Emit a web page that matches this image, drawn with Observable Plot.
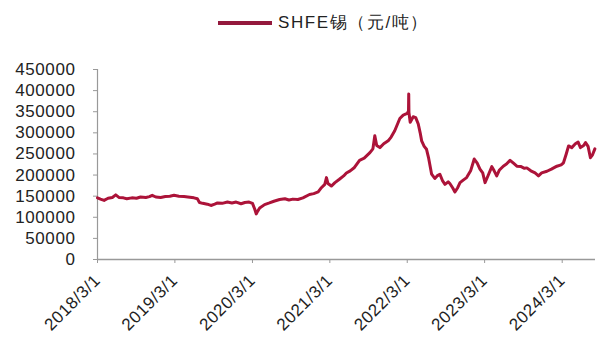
<!DOCTYPE html>
<html>
<head>
<meta charset="utf-8">
<script src="https://cdn.jsdelivr.net/npm/d3@7"></script>
<script src="https://cdn.jsdelivr.net/npm/@observablehq/plot@0.6"></script>
<style>
  html, body { margin: 0; padding: 0; background: #fff; }
  #wrap { position: relative; width: 600px; height: 341px; overflow: hidden; font-family: "Liberation Sans", Arial, sans-serif; }
  #legend { position: absolute; left: 218px; top: 10px; display: flex; align-items: center; height: 25px; }
  #legend .sw { width: 54px; height: 4px; margin-right: 6px; }
  #legend .tx { font-size: 17px; letter-spacing: 1.6px; color: #222; }
  #chart { position: absolute; left: 0; top: 46px; }
  #chart svg text { letter-spacing: 0.6px; }
</style>
</head>
<body>
<div id="wrap">
  <div id="legend"><div class="sw"></div><div class="tx"></div></div>
  <div id="chart"></div>
</div>
<script>
const seriesName = "SHFE锡（元/吨）";
const lineColor = "#ac1339";
const legendColor = "#94193d";

const dates = [
  "2018-03-01","2018-03-15","2018-04-01","2018-04-20","2018-05-10","2018-05-26","2018-06-10","2018-07-01","2018-07-17","2018-08-10",
  "2018-09-01","2018-09-20","2018-10-15","2018-11-01","2018-11-14","2018-12-01","2018-12-24","2019-01-15","2019-02-05","2019-02-25",
  "2019-03-20","2019-04-13","2019-05-01","2019-05-30","2019-06-15","2019-06-25","2019-07-10","2019-08-01","2019-08-18","2019-09-05",
  "2019-09-18","2019-10-10","2019-11-04","2019-11-25","2019-12-15","2020-01-07","2020-01-25","2020-02-14","2020-03-01","2020-03-11",
  "2020-03-19","2020-03-25","2020-04-04","2020-04-27","2020-05-20","2020-06-10","2020-07-07","2020-08-01","2020-08-20","2020-09-08",
  "2020-10-01","2020-10-25","2020-11-25","2020-12-15","2021-01-05","2021-01-20","2021-02-05","2021-02-13","2021-02-20","2021-03-08",
  "2021-03-25","2021-04-15","2021-05-05","2021-05-18","2021-06-05","2021-06-25","2021-07-19","2021-08-10","2021-09-06","2021-09-20",
  "2021-09-29","2021-10-08","2021-10-23","2021-11-10","2021-12-01","2021-12-15","2022-01-01","2022-01-25","2022-02-10","2022-03-01",
  "2022-03-07","2022-03-08","2022-03-09","2022-03-15","2022-03-29","2022-04-10","2022-04-22","2022-05-01","2022-05-08","2022-05-20",
  "2022-05-31","2022-06-10","2022-06-24","2022-07-09","2022-07-20","2022-08-02","2022-08-15","2022-08-26","2022-09-10","2022-09-18",
  "2022-10-01","2022-10-12","2022-10-25","2022-11-05","2022-11-20","2022-12-06","2022-12-25","2023-01-11","2023-01-25","2023-02-07",
  "2023-02-20","2023-03-03","2023-03-15","2023-04-04","2023-04-15","2023-04-27","2023-05-10","2023-05-28","2023-06-12","2023-06-29",
  "2023-07-15","2023-07-31","2023-08-20","2023-09-05","2023-09-16","2023-10-05","2023-10-25","2023-11-10","2023-11-25","2023-12-20",
  "2024-01-10","2024-02-05","2024-02-25","2024-03-07","2024-03-20","2024-03-31","2024-04-15","2024-05-02","2024-05-15","2024-05-26",
  "2024-06-10","2024-06-19","2024-07-01","2024-07-12","2024-07-22","2024-08-02"
];
const prices = [
  146000,143000,140000,145000,147000,153000,147000,146000,144000,146000,
  145000,148000,147000,149000,152000,148000,147000,149000,150000,152000,
  150000,149000,148000,146000,144000,135000,133000,131000,128000,131000,
  134000,133000,136000,134000,136000,132000,135000,136000,133000,120000,
  108000,114000,122000,130000,134000,138000,142000,144000,141000,143000,
  142000,146000,154000,156000,160000,170000,178000,194000,180000,174000,
  182000,190000,198000,205000,210000,218000,235000,240000,253000,262000,
  293000,270000,265000,274000,281000,290000,305000,334000,342000,346000,
  352000,392000,348000,325000,338000,336000,321000,300000,281000,268000,
  261000,240000,202000,192000,198000,202000,186000,178000,184000,180000,
  170000,160000,170000,182000,188000,194000,210000,238000,228000,214000,
  205000,182000,196000,220000,210000,198000,212000,221000,226000,235000,
  228000,221000,220000,216000,217000,210000,205000,198000,205000,209000,
  214000,221000,224000,229000,250000,269000,265000,274000,278000,265000,
  270000,277000,268000,241000,248000,262000
];
const xTickDates = ["2018-03-01","2019-03-01","2020-03-01","2021-03-01","2022-03-01","2023-03-01","2024-03-01"];
const yTicks = [0,50000,100000,150000,200000,250000,300000,350000,400000,450000];
const xDomain = ["2018-03-01","2024-08-05"];

const data = dates.map((d, i) => ({date: new Date(d), price: prices[i]}));

document.querySelector("#legend .sw").style.background = legendColor;
document.querySelector("#legend .tx").textContent = seriesName;

const fmtDate = d => `${d.getUTCFullYear()}/${d.getUTCMonth() + 1}/${d.getUTCDate()}`;

const chart = Plot.plot({
  width: 600,
  height: 295,
  marginTop: 23,
  marginBottom: 82,
  marginLeft: 97,
  marginRight: 5,
  style: {fontFamily: "'Liberation Sans', Arial, sans-serif", fontSize: "17px", color: "#222", background: "#fff"},
  x: {type: "utc", domain: xDomain.map(d => new Date(d))},
  y: {domain: [0, 450000]},
  marks: [
    Plot.axisY({ticks: yTicks, tickFormat: d3.format("d"), tickSize: 4, tickPadding: 18, stroke: "#999", label: null, fontSize: 17, fill: "#222"}),
    Plot.axisX({ticks: xTickDates.map(d => new Date(d)), tickFormat: fmtDate, tickSize: 4, tickPadding: 14, tickRotate: -45, stroke: "#999", label: null, fontSize: 17, fill: "#222"}),
    Plot.ruleX([new Date(xDomain[0])], {stroke: "#999", strokeWidth: 1.2}),
    Plot.ruleY([0], {stroke: "#999", strokeWidth: 1.5}),
    Plot.line(data, {x: "date", y: "price", stroke: lineColor, strokeWidth: 3, strokeLinejoin: "round"})
  ]
});
document.getElementById("chart").appendChild(chart);
</script>
</body>
</html>
